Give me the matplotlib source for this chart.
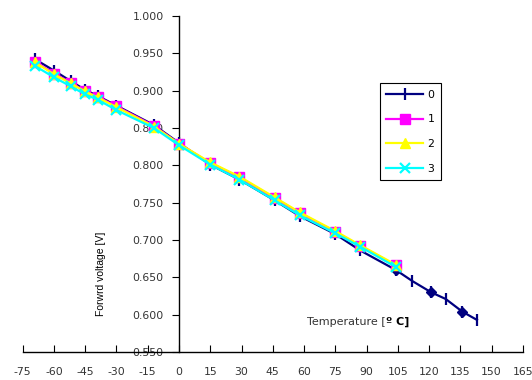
import matplotlib
matplotlib.use("Agg")
import matplotlib.pyplot as plt

plt.rcParams["font.family"] = ["DejaVu Sans"]
plt.rcParams["axes.unicode_minus"] = False

# temperatures [deg C]
temps = [-69, -60, -52, -45, -39, -30, -12, 0, 15, 29, 46, 58, 75, 87, 104]
temps0 = temps + [112, 121, 128, 136, 143]

# forward voltage [V] per series
volt0 = [0.942, 0.927, 0.913, 0.901, 0.893, 0.880, 0.854, 0.830, 0.801, 0.781,
         0.753, 0.732, 0.708, 0.686, 0.660, 0.645, 0.630, 0.621, 0.604, 0.593]
volt1 = [0.939, 0.923, 0.911, 0.899, 0.892, 0.879, 0.853, 0.829, 0.803, 0.784,
         0.756, 0.736, 0.711, 0.692, 0.666]
volt2 = [0.938, 0.922, 0.910, 0.899, 0.891, 0.878, 0.852, 0.829, 0.804, 0.785,
         0.757, 0.737, 0.712, 0.693, 0.667]
volt3 = [0.933, 0.918, 0.906, 0.895, 0.888, 0.874, 0.850, 0.827, 0.801, 0.781,
         0.753, 0.733, 0.709, 0.691, 0.664]

# extra diamond points on series 0
diam_t = [104, 121, 136]
diam_v = [0.660, 0.630, 0.604]

labels = ["0", "1", "2", "3"]
xticks = list(range(-75, 166, 15))
yticks = [0.55, 0.60, 0.65, 0.70, 0.75, 0.80, 0.85, 0.90, 0.95, 1.00]

fig = plt.figure(figsize=(5.32, 3.80), dpi=100)
ax = fig.add_axes([0.0427, 0.0737, 0.940, 0.884])

ax.plot(temps0, volt0, color="#000080", lw=1.6, marker="|", ms=8, mew=1.6, label=labels[0], zorder=3)
ax.plot(diam_t, diam_v, color="#000080", lw=0, marker="D", ms=5.5, zorder=3)
ax.plot(temps, volt1, color="#FF00FF", lw=1.6, marker="s", ms=7, label=labels[1], zorder=4)
ax.plot(temps, volt2, color="#FFFF00", lw=1.6, marker="^", ms=6.5, label=labels[2], zorder=5)
ax.plot(temps, volt3, color="#00FFFF", lw=1.6, marker="x", ms=6.5, mew=1.6, label=labels[3], zorder=6)

ax.set_xlim(-75, 165)
ax.set_ylim(0.55, 1.0)
ax.set_xticks(xticks)
ax.set_yticks(yticks)
ax.set_yticklabels(["%.3f" % v for v in yticks])

ax.spines["top"].set_visible(False)
ax.spines["right"].set_visible(False)
ax.spines["left"].set_position(("data", 0))
ax.spines["left"].set_linewidth(1.0)
ax.spines["bottom"].set_linewidth(1.0)
ax.tick_params(axis="y", direction="out", length=5, pad=6, labelsize=7.8, labelcolor="#333333")
ax.tick_params(axis="x", direction="in", length=5, pad=11, labelsize=7.8, labelcolor="#333333")

ax.text(-37.2, 0.6545, "Forwrd voltage [V]", rotation=90, ha="center", va="center",
        fontsize=7.5, family="Liberation Sans")
t1 = ax.text(61.5, 0.590, "Temperature [", ha="left", va="center", fontsize=8, color="#333333")
ax.annotate("\u00ba C]", xy=(1, 0), xycoords=t1, ha="left", va="bottom", fontsize=8, fontweight="bold")

leg = ax.legend(loc="upper left", bbox_to_anchor=(0.714, 0.80), fontsize=7.8, frameon=True,
                fancybox=False, edgecolor="black", framealpha=1, handlelength=3.4,
                labelspacing=1.35, borderpad=0.6, handletextpad=0.4, borderaxespad=0)
leg.get_frame().set_linewidth(0.8)

fig.savefig("out.png", dpi=100)
